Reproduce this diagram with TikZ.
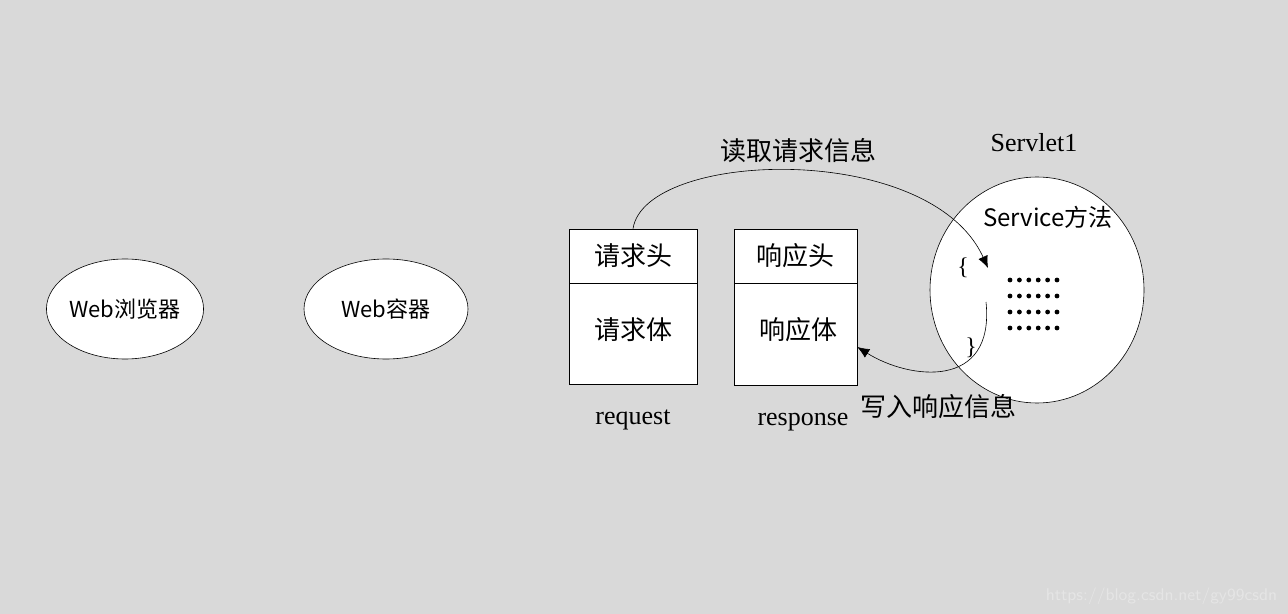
\documentclass[tikz,border=0pt]{standalone}
\usepackage{fontspec}
\setmainfont{Liberation Serif}
\newfontfamily\cjk{Noto Sans CJK SC}
\usetikzlibrary{arrows.meta, shapes.geometric, positioning}
\definecolor{bggray}{RGB}{217, 217, 217}
\begin{document}
\begin{tikzpicture}[
                x=0.5pt, y=-0.5pt,
                > = {Latex[length=6pt, width=5pt]}, % arrow head style
                line width=0.3pt,
                font=\fontsize{13}{15}\selectfont\cjk
                ]
                \tikzset{
                    oval/.style={ellipse, draw, fill=white, inner sep=0pt,
                        font=\fontsize{11}{13}\selectfont\cjk},
                    part/.style={draw, fill=white, minimum width=64pt, inner sep=0pt}
                }
                \fill[bggray] (0,0) rectangle (1288,614);
                \useasboundingbox (0,0) rectangle (1288,614);

                \node[oval, minimum width=78pt, minimum height=50pt] (browser) at (125,309) {Web浏览器};
                \node[oval, minimum width=82pt, minimum height=50pt] (container) at (386,309) {Web容器};

                % request
                \node[part, minimum height=27pt] (reqhead) at (633,256) {请求头};
                \node[part, minimum height=50.5pt, below=0pt of reqhead] (reqbody) {};
                \node at (633,330) {请求体};
                \node[font=\fontsize{13}{15}\selectfont\rmfamily] (req) at (633,420) {request};

                % response
                \node[part, minimum width=61.5pt, minimum height=27pt] (resphead) at (795.5,256) {响应头};
                \node[part, minimum width=61.5pt, minimum height=51pt, below=0pt of resphead] (respbody) {};
                \node at (798,330) {响应体};
                \node[font=\fontsize{13}{15}\selectfont\rmfamily] (resp) at (803,422) {response};

                % servlet
                \node[ellipse, draw, fill=white, minimum width=107pt, minimum height=113pt] (servlet) at (1037,290) {};
                \node[font=\fontsize{13}{15}\selectfont\rmfamily] (name) at (1034,143) {Servlet1};
                \node[font=\fontsize{12}{14}\selectfont\cjk] (service) at (1048,217) {Service方法};
                \node[font=\fontsize{12}{12}\selectfont\rmfamily] (lbrace) at (963,268) {\{};
                \node[font=\fontsize{12}{12}\selectfont\rmfamily] (rbrace) at (971,348) {\}};
                \foreach \y in {280,296,312,328}
                    \foreach \x in {0,...,5}
                        \fill (1010+\x*9.4,\y) circle (1.2pt);
                \coordinate (in) at (988,268);
                \coordinate (out) at (986,302);

                \draw[->] (reqhead.north) .. controls (645,150) and (930,140) .. (in);
                \node (readlbl) at (798,151) {读取请求信息};
                \draw[->] (out) .. controls (995,390) and (910,380) .. (respbody.east |- 0,347);
                \node (writelbl) at (938,407) {写入响应信息};

                \node[font=\fontsize{8.5}{9}\selectfont\sffamily, text=white!80!gray, anchor=east] at (1284,596) {https://blog.csdn.net/gy99csdn};
\end{tikzpicture}
\end{document}
